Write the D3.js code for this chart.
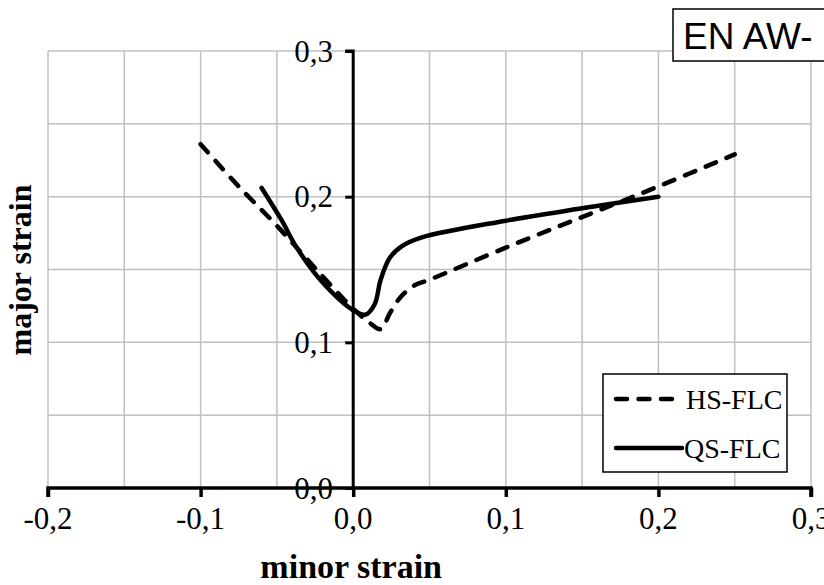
<!DOCTYPE html>
<html>
<head>
<meta charset="utf-8">
<script src="https://cdn.jsdelivr.net/npm/d3@7"></script>
<style>
  body { margin: 0; background: #fff; }
</style>
</head>
<body>
<div id="chart"></div>
<script>
// data
var hsX = [-0.1, -0.075, -0.05, -0.025, 0, 0.01, 0.018, 0.024, 0.031, 0.04, 0.05, 0.1, 0.15, 0.2, 0.25];
var hsY = [0.236, 0.207, 0.180, 0.151, 0.123, 0.114, 0.109, 0.120, 0.131, 0.139, 0.143, 0.165, 0.186, 0.207, 0.229];

var qsX = [-0.06, -0.047, -0.037, -0.02, 0, 0.008, 0.014, 0.018, 0.024, 0.032, 0.045, 0.1, 0.15, 0.2];
var qsY = [0.206, 0.184, 0.165, 0.141, 0.122, 0.119, 0.126, 0.143, 0.158, 0.166, 0.172, 0.1835, 0.192, 0.200];

var xTicks = [-0.2, -0.1, 0, 0.1, 0.2, 0.3];
var yTicks = [0, 0.1, 0.2, 0.3];
var gridX = [-0.2, -0.15, -0.1, -0.05, 0, 0.05, 0.1, 0.15, 0.2, 0.25, 0.3];
var gridY = [0, 0.05, 0.1, 0.15, 0.2, 0.25, 0.3];

var seriesNames = ["HS-FLC", "QS-FLC"];
var titleText = "EN AW-";

var svgWidth = 824;
var svgHeight = 585;
var serif = "'Liberation Serif', 'Times New Roman', serif";

var svg = d3.select("#chart")
  .append("svg")
  .attr("width", svgWidth)
  .attr("height", svgHeight);

// scales
var x = d3.scaleLinear().domain([-0.2, 0.3]).range([48, 811]);
var y = d3.scaleLinear().domain([0, 0.3]).range([488, 51]);

var fmt = function(d) { return d3.format(".1f")(d).replace(".", ",").replace("−", "-"); };

// gridlines
svg.append("g").selectAll("line")
  .data(gridX)
  .enter()
  .append("line")
  .attr("x1", d => x(d)).attr("x2", d => x(d))
  .attr("y1", y(0.3)).attr("y2", y(0))
  .attr("stroke", "#c0c0c0")
  .attr("stroke-width", 1.5);

svg.append("g").selectAll("line")
  .data(gridY)
  .enter()
  .append("line")
  .attr("x1", x(-0.2)).attr("x2", x(0.3))
  .attr("y1", d => y(d)).attr("y2", d => y(d))
  .attr("stroke", "#c0c0c0")
  .attr("stroke-width", 1.5);

// tick labels (drawn before axis lines, the x axis runs over "0,0")
svg.append("g").selectAll("text")
  .data(yTicks)
  .enter()
  .append("text")
  .attr("x", 333)
  .attr("y", d => y(d))
  .attr("dy", "0.34em")
  .attr("text-anchor", "end")
  .attr("font-family", serif)
  .attr("font-size", "31px")
  .text(fmt);

svg.append("g").selectAll("text")
  .data(xTicks)
  .enter()
  .append("text")
  .attr("x", d => x(d))
  .attr("y", 529)
  .attr("text-anchor", "middle")
  .attr("font-family", serif)
  .attr("font-size", "31px")
  .text(fmt);

// axes, crossing at zero
var bottomAxis = d3.axisBottom(x).tickValues(xTicks).tickSize(9).tickFormat("");
var leftAxis = d3.axisLeft(y).tickValues(yTicks).tickSize(8).tickFormat("");

var xAxis = svg.append("g")
  .attr("transform", `translate(0, ${y(0)})`)
  .call(bottomAxis);
xAxis.selectAll("path, line").attr("stroke", "#000").attr("stroke-width", 3.5);
xAxis.select("path").attr("d", `M${x(-0.2)},9V0H${x(0.3)}V9`);

var yAxis = svg.append("g")
  .attr("transform", `translate(${x(0)}, 0)`)
  .call(leftAxis);
yAxis.selectAll("path, line").attr("stroke", "#000").attr("stroke-width", 3);
yAxis.select("path").attr("d", `M-8,${y(0.3)}H0V${y(0)}`);

// curves
var line = d3.line()
  .x(d => x(d[0]))
  .y(d => y(d[1]))
  .curve(d3.curveCatmullRom.alpha(0.5));

var hsData = hsX.map((v, i) => [v, hsY[i]]);
var qsData = qsX.map((v, i) => [v, qsY[i]]);

svg.append("path")
  .datum(hsData)
  .attr("d", line)
  .attr("fill", "none")
  .attr("stroke", "#000")
  .attr("stroke-width", 4.5)
  .attr("stroke-linecap", "round")
  .attr("stroke-dasharray", "11,11.5");

svg.append("path")
  .datum(qsData)
  .attr("d", line)
  .attr("fill", "none")
  .attr("stroke", "#000")
  .attr("stroke-width", 4.5)
  .attr("stroke-linecap", "round");

// axis titles
svg.append("text")
  .attr("x", x(0) - 2)
  .attr("y", 578)
  .attr("text-anchor", "middle")
  .attr("font-family", serif)
  .attr("font-size", "34px")
  .attr("font-weight", "bold")
  .text("minor strain");

svg.append("text")
  .attr("transform", "translate(31, 270) rotate(-90)")
  .attr("text-anchor", "middle")
  .attr("font-family", serif)
  .attr("font-size", "32px")
  .attr("font-weight", "bold")
  .text("major strain");

// legend
var legend = svg.append("g");
legend.append("rect")
  .attr("x", 603).attr("y", 374)
  .attr("width", 184).attr("height", 98)
  .attr("fill", "#fff")
  .attr("stroke", "#000")
  .attr("stroke-width", 1.5);

legend.selectAll("line")
  .data(seriesNames)
  .enter()
  .append("line")
  .attr("x1", 616)
  .attr("x2", (d, i) => i === 0 ? 676 : 682)
  .attr("y1", (d, i) => 399 + i * 49)
  .attr("y2", (d, i) => 399 + i * 49)
  .attr("stroke", "#000")
  .attr("stroke-width", 4.5)
  .attr("stroke-linecap", "round")
  .attr("stroke-dasharray", (d, i) => i === 0 ? "11,11.5" : null);

legend.selectAll("text")
  .data(seriesNames)
  .enter()
  .append("text")
  .attr("x", (d, i) => i === 0 ? 686 : 684)
  .attr("y", (d, i) => 399 + i * 49)
  .attr("dy", "0.35em")
  .attr("font-family", serif)
  .attr("font-size", "28px")
  .text(d => d);

// title box, cut off by the right edge
svg.append("rect")
  .attr("x", 673).attr("y", 9)
  .attr("width", 170).attr("height", 52)
  .attr("fill", "#fff")
  .attr("stroke", "#000")
  .attr("stroke-width", 1.5);

svg.append("text")
  .attr("x", 683)
  .attr("y", 49)
  .attr("font-family", "'Liberation Sans', Arial, sans-serif")
  .attr("font-size", "37px")
  .text(titleText);
</script>
</body>
</html>
